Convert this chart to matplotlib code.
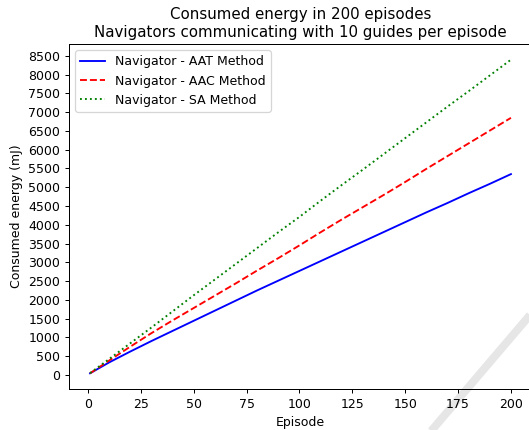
import matplotlib
matplotlib.use("Agg")
import matplotlib.pyplot as plt
from matplotlib.lines import Line2D

episodes = [1, 10, 20, 30, 40, 50, 60, 70, 80, 90, 100,
            110, 120, 130, 140, 150, 160, 170, 180, 190, 200]

# consumed energy (mJ), cumulative
aat_energy = [40, 330, 620, 900, 1170, 1440, 1710, 1980, 2250, 2510, 2770,
              3030, 3290, 3550, 3810, 4070, 4330, 4580, 4840, 5090, 5350]
aac_energy = [40, 380, 750, 1110, 1450, 1780, 2110, 2440, 2780, 3110, 3450,
              3800, 4140, 4470, 4800, 5140, 5490, 5830, 6170, 6510, 6850]
sa_energy = [45, 420, 840, 1260, 1690, 2120, 2540, 2960, 3380, 3800, 4210,
             4640, 5060, 5470, 5890, 6310, 6730, 7150, 7560, 7980, 8400]

DPI = 90


def main():
    fig = plt.figure(figsize=(529 / DPI, 430 / DPI), dpi=DPI)
    ax = fig.add_axes([69 / 529, 41 / 430, 463 / 529, 345 / 430])
    ax.patch.set_alpha(0)

    ax.plot(episodes, aat_energy, color="blue", linestyle="-", label="Navigator - AAT Method")
    ax.plot(episodes, aac_energy, color="red", linestyle="--", label="Navigator - AAC Method")
    ax.plot(episodes, sa_energy, color="green", linestyle=":", label="Navigator - SA Method")

    ax.set_xticks(range(0, 201, 25))
    ax.set_yticks(range(0, 8501, 500))
    ax.set_xlabel("Episode")
    ax.set_ylabel("Consumed energy (mJ)")
    ax.set_title("Consumed energy in 200 episodes\n"
                 "Navigators communicating with 10 guides per episode")
    ax.legend(loc="upper left")

    # faint diagonal streak in the lower right corner of the scan
    streak = Line2D([421 / 529, 536 / 529], [-0.03, 122 / 430],
                    transform=fig.transFigure, color="#e6e6e6",
                    linewidth=6.4, zorder=-1, solid_capstyle="butt")
    fig.lines.append(streak)

    fig.savefig("out.png", dpi=DPI)


if __name__ == "__main__":
    main()
